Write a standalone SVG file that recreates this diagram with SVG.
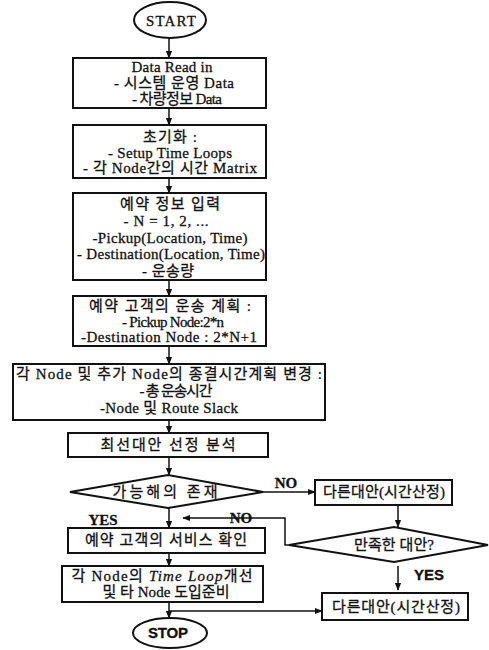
<svg xmlns="http://www.w3.org/2000/svg" width="489" height="650" viewBox="0 0 489 650">
<defs>
<marker id="ah" viewBox="0 0 10 10" refX="9" refY="5" markerWidth="8" markerHeight="8" orient="auto-start-reverse" markerUnits="userSpaceOnUse">
<path d="M0,1 L10,5 L0,9 z" fill="#111"/>
</marker>
<style>
.b{fill:#fff;stroke:#111;stroke-width:2}
.t{font-family:"Liberation Serif","Noto Sans CJK KR",serif;font-size:15px;fill:#111;stroke:#111;stroke-width:0.3;text-anchor:middle}
.s{font-family:"Liberation Sans","Noto Sans CJK KR",sans-serif;font-weight:bold}
.c{fill:none;stroke:#111;stroke-width:1.5}
.a{marker-end:url(#ah)}
</style>
</defs>
<rect width="489" height="650" fill="#fff"/>
<g id="connectors">
<line class="c a" x1="169" y1="38" x2="169" y2="58"/>
<line class="c a" x1="169" y1="108" x2="169" y2="125"/>
<line class="c a" x1="169" y1="178" x2="169" y2="193"/>
<line class="c a" x1="169" y1="280" x2="169" y2="296"/>
<line class="c a" x1="169" y1="346" x2="169" y2="364"/>
<line class="c a" x1="169" y1="420" x2="169" y2="433"/>
<line class="c a" x1="169" y1="457" x2="169" y2="475"/>
<line class="c a" x1="263" y1="492" x2="315" y2="492"/>
<line class="c a" x1="169" y1="508" x2="169" y2="528"/>
<line class="c a" x1="398" y1="505" x2="398" y2="527"/>
<polyline class="c a" points="289,545 285,545 285,518 183,518"/>
<line class="c a" x1="398" y1="566" x2="398" y2="590"/>
<line class="c a" x1="169" y1="553" x2="169" y2="566"/>
<line class="c a" x1="169" y1="602" x2="169" y2="618"/>
<line class="c a" x1="169" y1="611" x2="322" y2="611"/>
<text class="t" x="286" y="488" font-weight="bold" font-size="14">NO</text>
<text class="t" x="103" y="525" font-weight="bold" font-size="14">YES</text>
<text class="t" x="241" y="523" font-weight="bold" font-size="14">NO</text>
<text class="t s" x="429" y="580" font-size="13">YES</text>
</g>
<g id="start"><ellipse class="b" cx="170" cy="20" rx="36" ry="18"/><text class="t" x="171" y="26" font-size="16" textLength="50">START</text></g>
<g id="n1"><rect class="b" x="73" y="58" width="193" height="50"/>
<text class="t" x="172" y="72" textLength="81">Data Read in</text>
<text class="t" x="174" y="88" textLength="120">- 시스템 운영 Data</text>
<text class="t" x="177" y="104" textLength="90">- 차량정보 Data</text></g>
<g id="n2"><rect class="b" x="73" y="125" width="193" height="53"/>
<text class="t" x="170" y="142" textLength="54">초기화 :</text>
<text class="t" x="170" y="158" textLength="124">- Setup Time Loops</text>
<text class="t" x="170" y="173" textLength="174">- 각 Node간의 시간 Matrix</text></g>
<g id="n3"><rect class="b" x="73" y="193" width="193" height="87"/>
<text class="t" x="170" y="209" textLength="100">예약 정보 입력</text>
<text class="t" x="166" y="226" textLength="85">- N = 1, 2, ...</text>
<text class="t" x="170" y="243" textLength="155">-Pickup(Location, Time)</text>
<text class="t" x="171" y="259" textLength="188">- Destination(Location, Time)</text>
<text class="t" x="168" y="276" textLength="52">- 운송량</text></g>
<g id="n4"><rect class="b" x="73" y="296" width="193" height="50"/>
<text class="t" x="170" y="311" textLength="162">예약 고객의 운송 계획 :</text>
<text class="t" x="173" y="327" textLength="102">- Pickup Node:2*n</text>
<text class="t" x="169" y="342" textLength="176">-Destination Node : 2*N+1</text></g>
<g id="n5"><rect class="b" x="13" y="364" width="312" height="56"/>
<text class="t" x="169" y="379" textLength="306">각 Node 및 추가 Node의 종결시간계획 변경 :</text>
<text class="t" x="176" y="396" textLength="73">- 총 운송시간</text>
<text class="t" x="169" y="413" textLength="138">-Node 및  Route Slack</text></g>
<g id="n6"><rect class="b" x="68" y="433" width="200" height="24"/>
<text class="t" x="168" y="450" textLength="135">최선대안 선정 분석</text></g>
<g id="d1"><polygon class="b" points="70,492 168,475 263,492 168,508"/>
<text class="t" x="165" y="497" textLength="105">가능해의 존재</text></g>
<g id="n7"><rect class="b" x="315" y="480" width="137" height="25"/>
<text class="t" x="384" y="497" textLength="122">다른대안(시간산정)</text></g>
<g id="n8"><rect class="b" x="68" y="528" width="197" height="25"/>
<text class="t" x="166" y="545" textLength="162">예약 고객의 서비스 확인</text></g>
<g id="d2"><polygon class="b" points="289,545 394,527 488,545 394,562"/>
<text class="t" x="394" y="550" textLength="80">만족한 대안?</text></g>
<g id="n9"><rect class="b" x="62" y="566" width="201" height="36"/>
<text class="t" x="162" y="581" textLength="181">각 Node의 <tspan font-style="italic">Time Loop</tspan>개선</text>
<text class="t" x="166" y="597" textLength="127">및 타 Node 도입준비</text></g>
<g id="n10"><rect class="b" x="322" y="593" width="146" height="27"/>
<text class="t" x="396" y="612" textLength="128">다른대안(시간산정)</text></g>
<g id="stop"><ellipse class="b" cx="170" cy="633" rx="37" ry="15"/><text class="t s" x="168" y="638" font-size="15" textLength="40">STOP</text></g>
</svg>
